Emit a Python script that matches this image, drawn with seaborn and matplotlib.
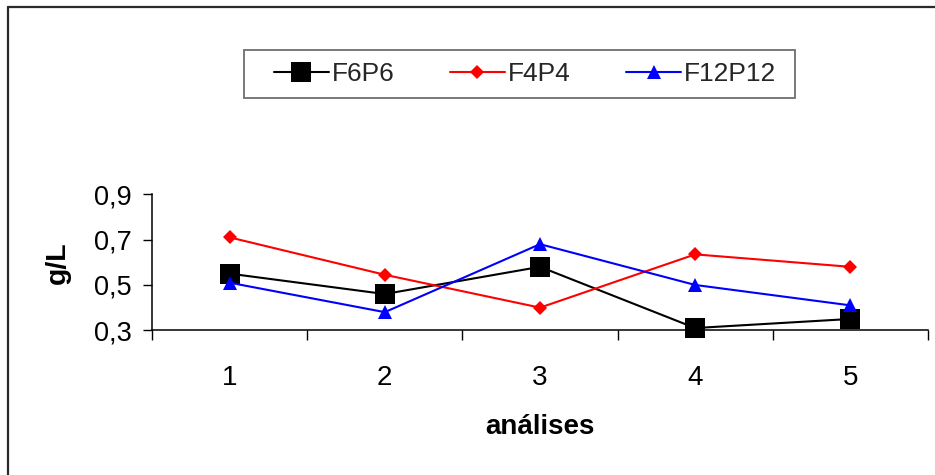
import numpy as np
import pandas as pd
import matplotlib
matplotlib.use("Agg")
import matplotlib.pyplot as plt
from matplotlib.lines import Line2D
from matplotlib.patches import Rectangle
from matplotlib.ticker import FixedLocator, NullFormatter, FixedFormatter
import seaborn as sns

# Data
analises = [1, 2, 3, 4, 5]
f6p6 = [0.55, 0.46, 0.58, 0.31, 0.35]
f4p4 = [0.71, 0.545, 0.40, 0.635, 0.58]
f12p12 = [0.51, 0.38, 0.68, 0.50, 0.41]
series_names = ["F6P6", "F4P4", "F12P12"]
ytick_values = [0.3, 0.5, 0.7, 0.9]
ytick_labels = ["0,3", "0,5", "0,7", "0,9"]

sns.set_theme(style="white")
plt.rcParams["font.family"] = ["Liberation Sans", "DejaVu Sans"]

W, H = 935, 475
fig = plt.figure(figsize=(W / 100, H / 100), dpi=100)
fig.patch.set_facecolor("white")

# plot area in pixels
x0, x1, ytop, ybot = 152, 928, 194.3, 330.3
ax = fig.add_axes([x0 / W, 1 - ybot / H, (x1 - x0) / W, (ybot - ytop) / H])

df = pd.DataFrame({
    "analises": analises * 3,
    "valor": f6p6 + f4p4 + f12p12,
    "serie": [s for s in series_names for _ in analises],
})

styles = {
    "F6P6": dict(color="#000000", marker="s", ms=14.0),
    "F4P4": dict(color="#FF0000", marker="D", ms=7.4),
    "F12P12": dict(color="#0000FF", marker="^", ms=10.5),
}

for name in series_names:
    st = styles[name]
    sub = df[df["serie"] == name]
    sns.lineplot(data=sub, x="analises", y="valor", ax=ax, color=st["color"],
                 marker=st["marker"], markersize=st["ms"], markeredgewidth=0,
                 linewidth=1.5, label=name, clip_on=False, legend=False)

ax.set_xlim(0.5, 5.5)
ax.set_ylim(0.3, 0.9)

# category boundaries as tick marks, labels in between
ax.xaxis.set_major_locator(FixedLocator(np.arange(0.5, 6.0, 1.0)))
ax.xaxis.set_major_formatter(NullFormatter())
ax.xaxis.set_minor_locator(FixedLocator(analises))
ax.xaxis.set_minor_formatter(FixedFormatter([str(a) for a in analises]))
ax.tick_params(axis="x", which="major", direction="out", length=7.2, width=1.0,
               color="black", bottom=True)
ax.tick_params(axis="x", which="minor", length=0, pad=25, labelsize=20,
               labelcolor="black")

ax.yaxis.set_major_locator(FixedLocator(ytick_values))
ax.yaxis.set_major_formatter(FixedFormatter(ytick_labels))
ax.tick_params(axis="y", which="major", direction="out", length=6.8, width=1.0,
               color="black", left=True, pad=8, labelsize=19.5, labelcolor="black")

for side in ["top", "right"]:
    ax.spines[side].set_visible(False)
for side in ["left", "bottom"]:
    ax.spines[side].set_color("black")
    ax.spines[side].set_linewidth(1.1)
ax.grid(False)
ax.set_facecolor("white")

ax.set_xlabel("análises", fontsize=20, fontweight="bold", color="black")
ax.xaxis.set_label_coords(0.5, -0.615)
ax.set_ylabel("g/L", fontsize=20.5, fontweight="bold", color="black")
ax.yaxis.set_label_coords(-0.104, 0.5)

# legend
handles, labels = ax.get_legend_handles_labels()
leg = fig.legend(handles, labels, loc="center", bbox_to_anchor=(525 / W, 1 - 74 / H),
                 ncol=3, frameon=False, fontsize=19, handlelength=2.08,
                 handletextpad=0.12, columnspacing=2.1, borderpad=0.3)
fig.add_artist(Rectangle((244 / W, 1 - 98.3 / H), (795 - 244) / W, (98.3 - 50) / H,
                         transform=fig.transFigure, fill=False,
                         edgecolor="#6e6e6e", linewidth=1.3))

# outer chart border (top and left edges)
fig.add_artist(Line2D([8 / W, 1.0], [1 - 6.5 / H, 1 - 6.5 / H], transform=fig.transFigure,
                      color="#2a2a2a", linewidth=1.6))
fig.add_artist(Line2D([8 / W, 8 / W], [0.0, 1 - 6.5 / H], transform=fig.transFigure,
                      color="#2a2a2a", linewidth=1.6))

fig.savefig("out.png", dpi=100)
